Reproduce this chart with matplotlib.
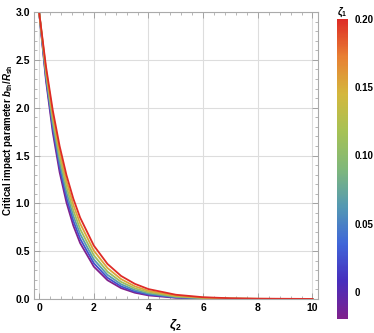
import matplotlib
matplotlib.use("Agg")
import matplotlib.pyplot as plt
import numpy as np
from matplotlib.colors import LinearSegmentedColormap, Normalize
from matplotlib.ticker import MultipleLocator
import matplotlib.cm as cm

plt.rcParams['font.family'] = ['Liberation Sans', 'DejaVu Sans']
plt.rcParams['mathtext.fontset'] = 'custom'
plt.rcParams['mathtext.it'] = 'Liberation Sans:italic:bold'
plt.rcParams['mathtext.rm'] = 'Liberation Sans:bold'

# valores
zeta2 = [0, 0.25, 0.5, 0.75, 1, 1.25, 1.5, 2, 2.5, 3, 3.5, 4, 5, 6, 7, 8, 10]
zeta1 = [-0.02, 0.025, 0.065, 0.11, 0.155, 0.20]
b_curvas = [
    [3.0, 2.285, 1.740, 1.325, 1.009, 0.768, 0.585, 0.339, 0.197, 0.114, 0.066, 0.038, 0.013, 0.004, 0.001, 0.0, 0.0],
    [3.0, 2.313, 1.784, 1.375, 1.060, 0.818, 0.630, 0.375, 0.223, 0.132, 0.079, 0.047, 0.017, 0.006, 0.002, 0.001, 0.0],
    [3.0, 2.342, 1.829, 1.428, 1.115, 0.870, 0.680, 0.414, 0.253, 0.154, 0.094, 0.057, 0.021, 0.008, 0.003, 0.001, 0.0],
    [3.0, 2.372, 1.875, 1.482, 1.172, 0.926, 0.732, 0.458, 0.286, 0.179, 0.112, 0.070, 0.027, 0.011, 0.004, 0.002, 0.0],
    [3.0, 2.402, 1.922, 1.539, 1.232, 0.986, 0.790, 0.506, 0.324, 0.208, 0.133, 0.085, 0.035, 0.014, 0.006, 0.002, 0.0],
    [3.0, 2.432, 1.971, 1.598, 1.295, 1.050, 0.851, 0.559, 0.367, 0.241, 0.159, 0.104, 0.045, 0.019, 0.008, 0.004, 0.001],
]

# mapa tipo "Rainbow"
colores = [(0.50, 0.13, 0.55), (0.28, 0.18, 0.74), (0.25, 0.40, 0.85), (0.33, 0.60, 0.70),
           (0.50, 0.72, 0.48), (0.65, 0.76, 0.33), (0.83, 0.72, 0.24), (0.91, 0.50, 0.20),
           (0.87, 0.17, 0.15)]
rainbow = LinearSegmentedColormap.from_list('rainbow_m', colores)
norma = Normalize(vmin=-0.02, vmax=0.2)

fig = plt.figure(figsize=(3.74, 3.33), dpi=100)
ax = fig.add_axes([0.09, 0.102, 0.76, 0.862])

for z1, b in zip(zeta1, b_curvas):
    ax.plot(zeta2, b, color=rainbow(norma(z1)), lw=1.3)

ax.set_xlim(-0.2, 10.2)
ax.set_ylim(0, 3)
ax.xaxis.set_major_locator(MultipleLocator(2))
ax.xaxis.set_minor_locator(MultipleLocator(0.4))
ax.yaxis.set_major_locator(MultipleLocator(0.5))
ax.yaxis.set_minor_locator(MultipleLocator(0.1))
ax.grid(True, which='major', color='#dddddd', lw=0.8)
ax.tick_params(which='both', direction='in', top=True, right=True, color='#999999',
               labelsize=7.5, pad=2.5)
ax.tick_params(which='major', length=4, width=0.6)
ax.tick_params(which='minor', length=2, width=0.5)
ax.tick_params(labeltop=False, labelright=False)
for lab in ax.get_xticklabels() + ax.get_yticklabels():
    lab.set_fontweight('bold')
for s in ax.spines.values():
    s.set_color('#aaaaaa')
    s.set_linewidth(0.8)

ax.set_xlabel(r'$\zeta_2$', fontsize=9, labelpad=4)
ax.set_ylabel(r'Critical impact parameter $b_{\rm th}/R_{\rm sh}$', fontsize=7,
              fontweight='bold')
ax.yaxis.set_label_coords(-0.066, 0.555)

# barra de color
cax = fig.add_axes([0.901, 0.042, 0.029, 0.901])
sm = cm.ScalarMappable(norm=norma, cmap=rainbow)
cb = fig.colorbar(sm, cax=cax, ticks=[0, 0.05, 0.10, 0.15, 0.20])
cb.ax.set_yticklabels(['0', '0.05', '0.10', '0.15', '0.20'])
cb.outline.set_visible(False)
cb.ax.tick_params(length=2, width=0.5, color='white', labelsize=7, pad=3)
for lab in cb.ax.get_yticklabels():
    lab.set_fontweight('bold')
cb.ax.set_title(r'$\zeta_1$', fontsize=7, pad=3)

fig.savefig('out.png', dpi=100)
